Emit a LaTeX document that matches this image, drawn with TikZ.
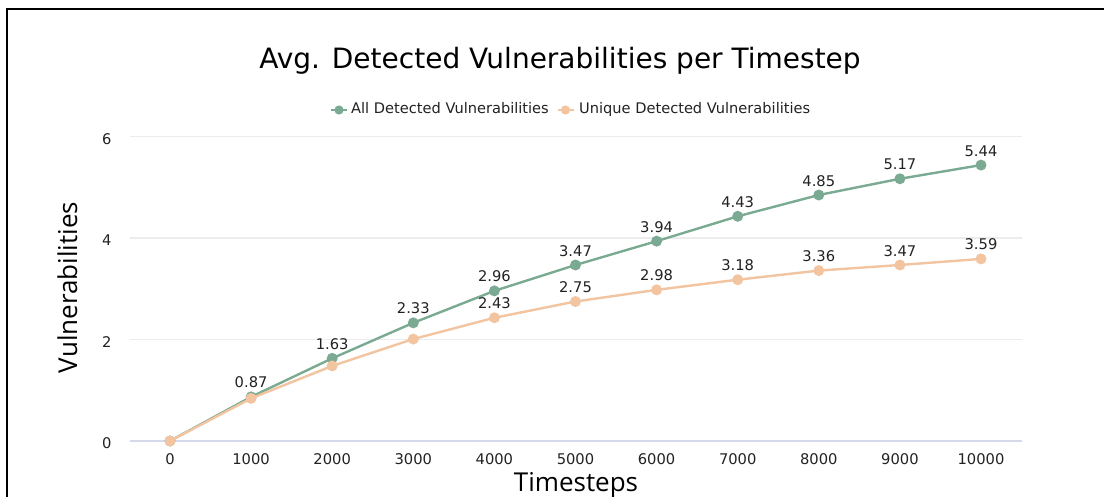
\documentclass[tikz,border=0pt]{standalone}
\usepackage{fontspec}
\setmainfont{DejaVu Sans}
\newfontfamily\axisfont{Open Sans}
\definecolor{allc}{HTML}{7BAA92}
\definecolor{uniqc}{HTML}{F2C4A0}
\definecolor{gridc}{HTML}{ECECEC}
\definecolor{zeroc}{HTML}{D6D9EA}
\definecolor{txtc}{HTML}{222222}
\begin{document}
\begin{tikzpicture}[x=1pt,y=-1pt,
  ticklab/.style={font=\fontsize{14.7}{16}\selectfont, text=txtc, inner sep=0pt},
  vallab/.style={font=\fontsize{14.7}{16}\selectfont, text=txtc, inner sep=0pt, anchor=base},
  gridline/.style={draw=gridc, line width=1.6pt},
  seriesall/.style={draw=allc, line width=2.4pt, line join=round},
  seriesuniq/.style={draw=uniqc, line width=2.4pt, line join=round},
  dotall/.style={fill=allc},
  dotuniq/.style={fill=uniqc}]
\useasboundingbox (0,0) rectangle (1104,497);
\fill[white] (0,0) rectangle (1104,497);
% frame
\draw[black, line width=2pt] (7,497) -- (7,9.5) -- (1104,9.5);

% title
\node[font=\fontsize{28}{32}\selectfont, anchor=base, inner sep=0pt] (title) at (560,68.3) {Avg. Detected Vulnerabilities per Timestep};

% legend
\coordinate (lgA1) at (331,110); \coordinate (lgA2) at (347,110);
\draw[allc, line width=2.4pt] (lgA1) -- (lgA2);
\fill[allc] (339,110) circle (4.6);
\node[font=\fontsize{14.6}{16}\selectfont, anchor=base west, inner sep=0pt, text=txtc] (legA) at (351,114) {All Detected Vulnerabilities};
\coordinate (lgU1) at (557.5,110); \coordinate (lgU2) at (573.5,110);
\draw[uniqc, line width=2.4pt] (lgU1) -- (lgU2);
\fill[uniqc] (565.5,110) circle (4.6);
\node[font=\fontsize{14.6}{16}\selectfont, anchor=base west, inner sep=0pt, text=txtc] (legU) at (579,114) {Unique Detected Vulnerabilities};

% grid and y ticks
\foreach \v in {2,4,6} {
  \draw[gridline] (129.5,{441-50.72*\v}) -- (1022,{441-50.72*\v});
}
\draw[draw=zeroc, line width=1.6pt] (129.5,441) -- (1022,441);
\foreach \v in {0,2,4,6} {
  \node[ticklab, anchor=base] (yt\v) at (106.7,{441-50.72*\v+7.5}) {\v};
}
% x ticks
\foreach \i in {0,...,10} {
  \pgfmathtruncatemacro{\lab}{\i*1000}
  \node[ticklab, anchor=base] (xt\i) at ({170+81.1*\i},464.7) {\lab};
}

% axis titles
\node[font=\axisfont\fontsize{26}{30}\selectfont, rotate=90, inner sep=0pt, anchor=base] (ytitle) at (77,287.5) {Vulnerabilities};
\node[font=\axisfont\fontsize{26}{30}\selectfont, inner sep=0pt, anchor=base] (xtitle) at (576,491.7) {Timesteps};

% data points
\foreach \v [count=\n from 0] in {0,0.87,1.63,2.33,2.96,3.47,3.94,4.43,4.85,5.17,5.44} {
  \coordinate (a\n) at ({170+81.1*\n},{441-50.72*\v});
}
\foreach \v [count=\n from 0] in {0,0.84,1.48,2.01,2.43,2.75,2.98,3.18,3.36,3.47,3.59} {
  \coordinate (u\n) at ({170+81.1*\n},{441-50.72*\v});
}

% all detected series
\draw[seriesall] (a0) -- (a1) -- (a2) -- (a3) -- (a4) -- (a5) -- (a6) -- (a7) -- (a8) -- (a9) -- (a10);
\foreach \n in {0,...,10} { \fill[dotall] (a\n) circle (5.5); }
% unique detected series
\draw[seriesuniq] (u0) -- (u1) -- (u2) -- (u3) -- (u4) -- (u5) -- (u6) -- (u7) -- (u8) -- (u9) -- (u10);
\foreach \n in {0,...,10} { \fill[dotuniq] (u\n) circle (5.5); }

% value labels
\foreach \n/\t in {1/0.87,2/1.63,3/2.33,4/2.96,5/3.47,6/3.94,7/4.43,8/4.85,9/5.17,10/5.44} {
  \node[vallab] (la\n) at ([yshift=9pt]a\n) {\t};
}
\foreach \n/\t in {4/2.43,5/2.75,6/2.98,7/3.18,8/3.36,9/3.47,10/3.59} {
  \node[vallab] (lu\n) at ([yshift=9pt]u\n) {\t};
}
\end{tikzpicture}
\end{document}
